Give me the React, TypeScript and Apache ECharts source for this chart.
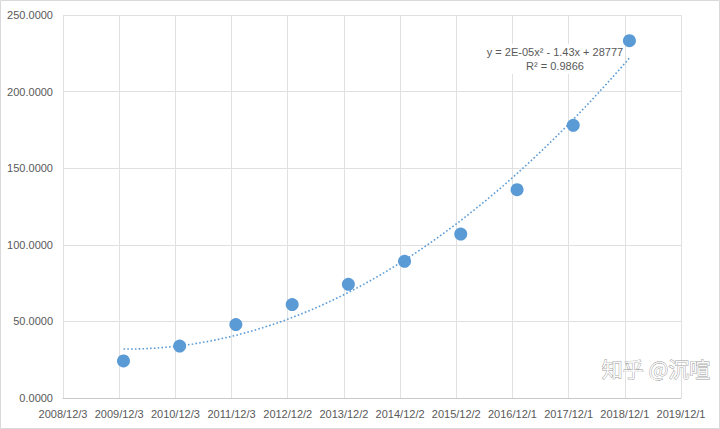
import React, { useEffect, useRef } from "react";
import * as echarts from "echarts";

const dates = [
  "2009/12/31", "2010/12/31", "2011/12/31", "2012/12/31", "2013/12/31",
  "2014/12/31", "2015/12/31", "2016/12/31", "2017/12/31", "2018/12/31",
];
const values = [24.2, 33.9, 47.9, 61.0, 74.2, 89.2, 107.0, 136.0, 178.0, 233.2];
const axisStart = "2008/12/3";
const xTickCount = 11;
const xTickDays = 365;
const yTicks = [0, 50, 100, 150, 200, 250];
const equationText = "y = 2E-05x² - 1.43x + 28777";
const r2Text = "R² = 0.9866";
const watermark = "知乎 @沉喧";

const DAY = 86400000;
function toUTC(s: string) {
  const [y, m, d] = s.split("/").map(Number);
  return Date.UTC(y, m - 1, d);
}
const base = toUTC(axisStart);
function dayOffset(s: string) {
  return Math.round((toUTC(s) - base) / DAY);
}
function fmtDate(days: number) {
  const d = new Date(base + days * DAY);
  return `${d.getUTCFullYear()}/${d.getUTCMonth() + 1}/${d.getUTCDate()}`;
}

// quadratic least squares (polynomial trendline, order 2)
function quadFit(xs: number[], ys: number[]) {
  const n = xs.length;
  let s0 = n, s1 = 0, s2 = 0, s3 = 0, s4 = 0, t0 = 0, t1 = 0, t2 = 0;
  for (let i = 0; i < n; i++) {
    const x = xs[i], y = ys[i];
    s1 += x; s2 += x * x; s3 += x * x * x; s4 += x * x * x * x;
    t0 += y; t1 += x * y; t2 += x * x * y;
  }
  const M = [
    [s4, s3, s2, t2],
    [s3, s2, s1, t1],
    [s2, s1, s0, t0],
  ];
  for (let i = 0; i < 3; i++) {
    let p = i;
    for (let r = i + 1; r < 3; r++) if (Math.abs(M[r][i]) > Math.abs(M[p][i])) p = r;
    [M[i], M[p]] = [M[p], M[i]];
    for (let r = 0; r < 3; r++) {
      if (r === i) continue;
      const f = M[r][i] / M[i][i];
      for (let c = i; c < 4; c++) M[r][c] -= f * M[i][c];
    }
  }
  return [M[0][3] / M[0][0], M[1][3] / M[1][1], M[2][3] / M[2][2]];
}

export default function App() {
  const ref = useRef<HTMLDivElement>(null);
  useEffect(() => {
    if (!ref.current) return;
    const chart = echarts.init(ref.current, undefined, { renderer: "svg" });
    const xs = dates.map(dayOffset);
    const [a, b, c] = quadFit(xs, values);
    const trend: number[][] = [];
    const x0 = xs[0], x1 = xs[xs.length - 1];
    const steps = 80;
    for (let i = 0; i <= steps; i++) {
      const x = x0 + ((x1 - x0) * i) / steps;
      trend.push([x, a * x * x + b * x + c]);
    }
    const textColor = "#595959";
    const font = "Liberation Sans, Arial, sans-serif";
    chart.setOption({
      animation: false,
      backgroundColor: "#ffffff",
      grid: { left: 63, right: 39, top: 15, bottom: 31, containLabel: false },
      xAxis: {
        type: "value",
        min: 0,
        max: xTickCount * xTickDays,
        interval: xTickDays,
        axisLine: { show: true, lineStyle: { color: "#c8c8c8", width: 1 } },
        axisTick: { show: false },
        splitLine: { show: true, lineStyle: { color: "#e0e0e0", width: 1 } },
        axisLabel: {
          color: textColor,
          fontSize: 11,
          fontFamily: font,
          margin: 10,
          showMinLabel: true,
          showMaxLabel: true,
          formatter: (v: number) => fmtDate(v),
        },
      },
      yAxis: {
        type: "value",
        min: yTicks[0],
        max: yTicks[yTicks.length - 1],
        interval: 50,
        axisLine: { show: false },
        axisTick: { show: false },
        splitLine: { show: true, lineStyle: { color: "#e0e0e0", width: 1 } },
        axisLabel: {
          color: textColor,
          fontSize: 11,
          fontFamily: font,
          margin: 10,
          formatter: (v: number) => v.toFixed(4),
        },
      },
      series: [
        {
          type: "line",
          data: trend,
          showSymbol: false,
          symbol: "none",
          smooth: false,
          lineStyle: { color: "#5b9bd5", width: 1.6, type: [1.6, 2.2] },
          z: 3,
        },
        {
          type: "scatter",
          data: xs.map((x, i) => [x, values[i]]),
          symbolSize: 13,
          itemStyle: { color: "#5b9bd5", opacity: 1 },
          z: 4,
        },
      ],
      graphic: [
        {
          type: "rect",
          shape: { x: 0.5, y: 0.5, width: 719, height: 428 },
          style: { fill: "none", stroke: "#d9d9d9", lineWidth: 1 },
          silent: true,
          z: 1,
        },
        {
          type: "rect",
          shape: { x: 487, y: 44, width: 136, height: 30 },
          style: { fill: "#ffffff", stroke: "none" },
          silent: true,
          z: 1,
        },
        {
          type: "text",
          x: 555,
          y: 52,
          z: 2,
          style: {
            text: equationText,
            fill: textColor,
            font: `11px ${font}`,
            textAlign: "center",
            textVerticalAlign: "middle",
          },
        },
        {
          type: "text",
          x: 555,
          y: 66,
          z: 2,
          style: {
            text: r2Text,
            fill: textColor,
            font: `11px ${font}`,
            textAlign: "center",
            textVerticalAlign: "middle",
          },
        },
        {
          type: "text",
          x: 656,
          y: 368,
          z: 100,
          style: {
            text: watermark,
            fill: "rgba(255,255,255,0.9)",
            stroke: "#9a9a9a",
            lineWidth: 0.8,
            font: `21px "Noto Sans CJK SC", sans-serif`,
            textAlign: "center",
            textVerticalAlign: "middle",
          },
        },
      ],
    });
    return () => chart.dispose();
  }, []);
  return (
    <div
      ref={ref}
      style={{ position: "fixed", left: 0, top: 0, width: 720, height: 429 }}
    />
  );
}
